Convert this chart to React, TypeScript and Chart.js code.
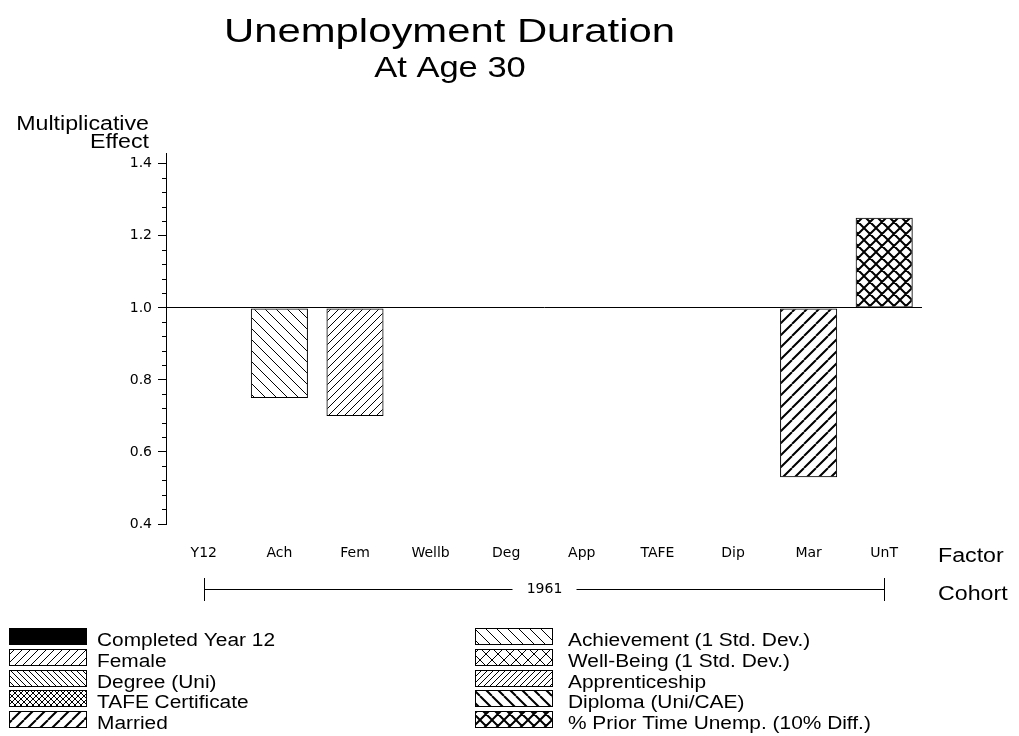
import { useEffect, useRef } from 'react';
import { Chart, registerables } from 'chart.js';

Chart.register(...registerables);

// ---------- data ----------
const TITLE = 'Unemployment Duration';
const SUBTITLE = 'At Age 30';
const Y_TITLE_LINES = ['Multiplicative', 'Effect'];
const FACTORS = ['Y12', 'Ach', 'Fem', 'Wellb', 'Deg', 'App', 'TAFE', 'Dip', 'Mar', 'UnT'];
const FACTOR_NAMES = [
  'Completed Year 12',
  'Achievement (1 Std. Dev.)',
  'Female',
  'Well-Being (1 Std. Dev.)',
  'Degree (Uni)',
  'Apprenticeship',
  'TAFE Certificate',
  'Diploma (Uni/CAE)',
  'Married',
  '% Prior Time Unemp. (10% Diff.)',
];
// multiplicative effect; null = no bar drawn (no effect)
const EFFECTS: (number | null)[] = [null, 0.75, 0.7, null, null, null, null, null, 0.53, 1.25];
const BASELINE = 1.0;
const Y_MIN = 0.4;
const Y_MAX = 1.43;
const MAJOR_TICKS = [0.4, 0.6, 0.8, 1.0, 1.2, 1.4];
const MINOR_PER_MAJOR = 4;
const COHORT_LABEL = '1961';
const X_AXIS_NAME = 'Factor';
const COHORT_AXIS_NAME = 'Cohort';

// ---------- styles ----------
type Hatch = { kind: 'solid' | 'fwd' | 'back' | 'cross'; gap: number; width: number };
const HATCHES: Hatch[] = [
  { kind: 'solid', gap: 0, width: 0 },
  { kind: 'back', gap: 11, width: 1 },
  { kind: 'fwd', gap: 8, width: 1 },
  { kind: 'cross', gap: 12, width: 1 },
  { kind: 'back', gap: 6, width: 1 },
  { kind: 'fwd', gap: 6, width: 1 },
  { kind: 'cross', gap: 6, width: 1 },
  { kind: 'back', gap: 12, width: 2 },
  { kind: 'fwd', gap: 12, width: 2 },
  { kind: 'cross', gap: 12, width: 2 },
];

const TEXT_FONT = '"Liberation Sans", Arial, sans-serif';
const TICK_FONT = 'DejaVu Sans';

function buildTickValues(): number[] {
  const out: number[] = [];
  for (let i = 0; i < MAJOR_TICKS.length; i++) {
    out.push(MAJOR_TICKS[i]);
    if (i < MAJOR_TICKS.length - 1) {
      const step = (MAJOR_TICKS[i + 1] - MAJOR_TICKS[i]) / (MINOR_PER_MAJOR + 1);
      for (let k = 1; k <= MINOR_PER_MAJOR; k++) out.push(MAJOR_TICKS[i] + k * step);
    }
  }
  return out;
}
const TICK_VALUES = buildTickValues();
const isMajor = (v: number | undefined) =>
  v !== undefined && MAJOR_TICKS.some((m) => Math.abs(m - v) < 1e-6);

function makeFill(ctx: CanvasRenderingContext2D, h: Hatch): string | CanvasPattern {
  if (h.kind === 'solid') return '#000';
  const s = h.gap;
  const c = document.createElement('canvas');
  c.width = s;
  c.height = s;
  const g = c.getContext('2d')!;
  g.strokeStyle = '#000';
  g.lineWidth = h.width;
  g.beginPath();
  for (let k = -1; k <= 1; k++) {
    if (h.kind === 'fwd' || h.kind === 'cross') {
      g.moveTo(k * s, s);
      g.lineTo(k * s + s, 0);
    }
    if (h.kind === 'back' || h.kind === 'cross') {
      g.moveTo(k * s, 0);
      g.lineTo(k * s + s, s);
    }
  }
  g.stroke();
  return ctx.createPattern(c, 'repeat') as CanvasPattern;
}

function stretchText(
  ctx: CanvasRenderingContext2D,
  text: string,
  x: number,
  y: number,
  size: number,
  sx: number,
  align: CanvasTextAlign,
) {
  ctx.save();
  ctx.font = `${size}px ${TEXT_FONT}`;
  ctx.fillStyle = '#000';
  ctx.textBaseline = 'alphabetic';
  ctx.textAlign = align;
  ctx.translate(x, y);
  ctx.scale(sx, 1);
  ctx.fillText(text, 0, 0);
  ctx.restore();
}

export default function App() {
  const ref = useRef<HTMLCanvasElement | null>(null);

  useEffect(() => {
    document.body.style.margin = '0';
    const canvas = ref.current!;
    const ctx = canvas.getContext('2d')!;
    const fills = HATCHES.map((h) => makeFill(ctx, h));

    const decor = {
      id: 'decor',
      afterDraw(chart: any) {
        const c: CanvasRenderingContext2D = chart.ctx;
        const xs = chart.scales.x;
        // titles
        stretchText(c, TITLE, 449.5, 42, 34, 1.23, 'center');
        stretchText(c, SUBTITLE, 450, 76.5, 30, 1.15, 'center');
        // y axis title
        stretchText(c, Y_TITLE_LINES[0], 149, 130, 20, 1.16, 'right');
        stretchText(c, Y_TITLE_LINES[1], 149, 148, 20, 1.16, 'right');
        // axis names
        stretchText(c, X_AXIS_NAME, 938, 562, 20, 1.16, 'left');
        stretchText(c, COHORT_AXIS_NAME, 938, 600, 20, 1.16, 'left');

        // cohort bracket
        const x0 = Math.round(xs.getPixelForValue(0)) + 0.5;
        const x1 = Math.round(xs.getPixelForValue(FACTORS.length - 1)) + 0.5;
        const mid = (x0 + x1) / 2;
        const ly = 589.5;
        c.save();
        c.strokeStyle = '#000';
        c.lineWidth = 1;
        c.beginPath();
        c.moveTo(x0, 578);
        c.lineTo(x0, 601);
        c.moveTo(x1, 578);
        c.lineTo(x1, 601);
        c.moveTo(x0, ly);
        c.lineTo(mid - 32, ly);
        c.moveTo(mid + 32, ly);
        c.lineTo(x1, ly);
        c.stroke();
        c.font = `14px "${TICK_FONT}"`;
        c.fillStyle = '#000';
        c.textAlign = 'center';
        c.textBaseline = 'middle';
        c.fillText(COHORT_LABEL, mid, ly);
        c.restore();

        // legend
        const boxX = [9, 475];
        const textX = [97, 568];
        for (let i = 0; i < FACTOR_NAMES.length; i++) {
          const col = i % 2;
          const row = Math.floor(i / 2);
          const top = 628 + Math.round(row * 20.8);
          const w = 78;
          const h = 17;
          c.save();
          c.fillStyle = fills[i] as any;
          c.fillRect(boxX[col], top, w, h);
          c.strokeStyle = '#000';
          c.lineWidth = 1;
          c.strokeRect(boxX[col] + 0.5, top + 0.5, w - 1, h - 1);
          c.restore();
          stretchText(c, FACTOR_NAMES[i], textX[col], top + 17.5, 18, 1.16, 'left');
        }
      },
    };

    const chart = new Chart(canvas, {
      type: 'bar',
      data: {
        labels: FACTORS,
        datasets: [
          {
            data: EFFECTS as any,
            base: BASELINE,
            backgroundColor: fills as any,
            borderColor: '#000',
            borderWidth: 1,
            borderSkipped: false,
            categoryPercentage: 1,
            barPercentage: 0.755,
          } as any,
        ],
      },
      options: {
        animation: false,
        responsive: false,
        devicePixelRatio: 1,
        events: [],
        layout: { padding: { left: 106, right: 97, top: 153, bottom: 172 } },
        plugins: {
          legend: { display: false },
          tooltip: { enabled: false },
          title: { display: false },
        },
        scales: {
          x: {
            type: 'category',
            offset: true,
            grid: { display: false, drawTicks: false },
            border: { display: false },
            ticks: {
              color: '#000',
              font: { family: TICK_FONT, size: 14 },
              padding: 21,
              maxRotation: 0,
              minRotation: 0,
              autoSkip: false,
            },
            afterFit: (s: any) => {
              s.height = 40;
            },
          },
          y: {
            type: 'linear',
            min: Y_MIN,
            max: Y_MAX,
            afterBuildTicks: (s: any) => {
              s.ticks = TICK_VALUES.map((v) => ({ value: v }));
            },
            ticks: {
              autoSkip: false,
              color: '#000',
              font: { family: TICK_FONT, size: 14 },
              padding: 6,
              callback: (v: any) => (isMajor(Number(v)) ? Number(v).toFixed(1) : ''),
            },
            grid: {
              drawOnChartArea: true,
              drawTicks: true,
              tickLength: 8,
              lineWidth: 1,
              color: (c: any) =>
                c.tick && Math.abs(c.tick.value - BASELINE) < 1e-6 ? '#000' : 'rgba(0,0,0,0)',
              tickColor: '#000',
              tickWidth: 1,
              tickBorderDash: (c: any) => (isMajor(c.tick?.value) ? [] : [4, 100]),
              tickBorderDashOffset: (c: any) => (isMajor(c.tick?.value) ? 0 : 100),
            } as any,
            border: { display: true, color: '#000', width: 1 },
            afterFit: (s: any) => {
              s.width = 60;
            },
          },
        },
      },
      plugins: [decor],
    });
    return () => chart.destroy();
  }, []);

  return (
    <div style={{ width: 1019, height: 736, background: '#fff' }}>
      <canvas ref={ref} width={1019} height={736} style={{ display: 'block' }} />
    </div>
  );
}
